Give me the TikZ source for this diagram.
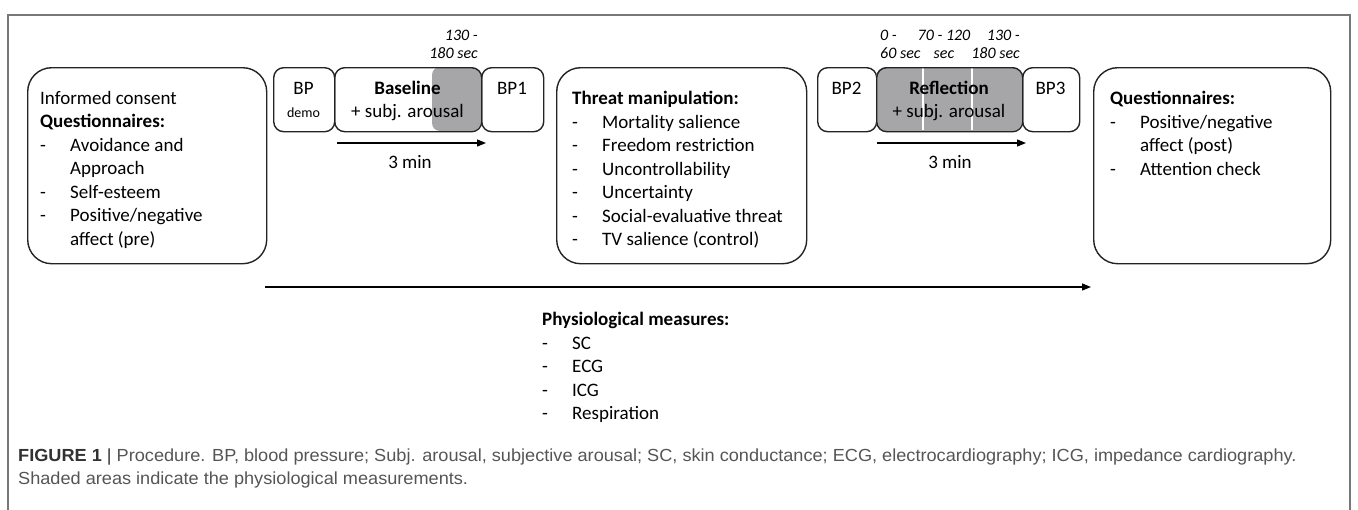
\documentclass[tikz,border=0pt]{standalone}
\usepackage{fontspec}
\usepackage{graphicx}
\setmainfont{Carlito}
\newfontfamily\capfont{Liberation Sans}
\usetikzlibrary{arrows.meta}
\definecolor{shadegray}{RGB}{166,166,168}
\definecolor{framegray}{RGB}{120,120,120}
\definecolor{linedark}{RGB}{35,35,35}
\definecolor{capgray}{RGB}{85,85,85}
\definecolor{capdark}{RGB}{50,50,50}
\newcommand\lidash{\makebox[30pt][l]{-}}
\newcommand\liind{\hspace*{30pt}}
\begin{document}
\begin{tikzpicture}[x=1pt,y=-1pt,
  bigbox/.style={draw=linedark, line width=1.4pt, rounded corners=24pt, inner sep=0pt, anchor=north west},
  smallbox/.style={draw=linedark, line width=1.4pt, rounded corners=10pt, inner sep=0pt, anchor=north west},
  txt/.style={font=\fontsize{19}{23.5}\selectfont, inner sep=0pt, align=left, text=black},
  lbl/.style={font=\fontsize{19}{23}\selectfont, inner sep=0pt, text=black},
  tlbl/.style={font=\fontsize{16}{18}\selectfont\itshape, inner sep=0pt, text=black},
  timeline/.style={line width=1.3pt, draw=black, -{Triangle[length=9pt,width=7pt]}},
  captxt/.style={font=\capfont\fontsize{17.5}{20}\selectfont, inner sep=0pt, text=capgray, anchor=base west}
]
\useasboundingbox (0,0) rectangle (1358,509);
\clip (0,0) rectangle (1358,509);
% outer frame
\draw[framegray, line width=1.3pt] (8,530) -- (8,15) -- (1350,15) -- (1350,530);

% ---- left questionnaire box
\node[bigbox, minimum width=239pt, minimum height=196pt] (consent) at (27,67) {};
\node[txt, anchor=north west] (consenttxt) at (40,91) {Informed consent\\
\textbf{Questionnaires:}\\
\lidash Avoidance and\\
\liind Approach\\
\lidash Self-esteem\\
\lidash Positive/negative\\
\liind affect (pre)};

% ---- baseline group
\node[smallbox, minimum width=61pt, minimum height=64pt] (bpdemo) at (273,67) {};
\begin{scope}
  \clip[rounded corners=10pt] (334,67) rectangle (481,131);
  \fill[shadegray, rounded corners=8pt] (432,67) rectangle (490,131);
\end{scope}
\node[smallbox, minimum width=147pt, minimum height=64pt] (baseline) at (334,67) {};
\node[smallbox, minimum width=62pt, minimum height=64pt] (bpone) at (481,67) {};
\node[lbl] (bpdemotxt) at (303.5,88) {BP};
\node[inner sep=0pt, font=\fontsize{14}{16}\selectfont] (demotxt) at (303.5,113) {demo};
\node[lbl] (baselinetxt) at (407.5,88) {\textbf{Baseline}};
\node[lbl] (arousaltxt) at (407.5,113) {+ subj. arousal};
\node[lbl] (bponetxt) at (512,88) {BP1};
\node[tlbl, anchor=north east, align=right] (tbase) at (478,30) {130 -\\180 sec};
\coordinate (ta1) at (337,143);
\coordinate (ta2) at (486,143);
\draw[timeline] (ta1) -- (ta2);
\node[lbl] (min1) at (410,162) {3 min};

% ---- threat box
\node[bigbox, minimum width=250pt, minimum height=196pt] (threat) at (556,67) {};
\node[txt, anchor=north west] (threattxt) at (572,91) {\textbf{Threat manipulation:}\\
\lidash Mortality salience\\
\lidash Freedom restriction\\
\lidash Uncontrollability\\
\lidash Uncertainty\\
\lidash Social-evaluative threat\\
\lidash TV salience (control)};

% ---- reflection group
\node[smallbox, minimum width=59pt, minimum height=64pt] (bptwo) at (817,67) {};
\fill[shadegray, rounded corners=10pt] (876,67) rectangle (1022,131);
\draw[white, line width=1.2pt] (923,68) -- (923,130);
\draw[white, line width=1.2pt] (972,68) -- (972,130);
\node[smallbox, minimum width=146pt, minimum height=64pt] (reflection) at (876,67) {};
\node[smallbox, minimum width=57pt, minimum height=64pt] (bpthree) at (1022,67) {};
\node[lbl] (bptwotxt) at (846.5,88) {BP2};
\node[lbl] (reflecttxt) at (949,88) {\textbf{Reflection}};
\node[lbl] (arousaltxttwo) at (949,113) {+ subj. arousal};
\node[lbl] (bpthreetxt) at (1050.5,88) {BP3};
\node[tlbl, anchor=north west, align=left] (tref1) at (880,30) {0 -\\60 sec};
\node[tlbl, anchor=north, align=center] (tref2) at (944,30) {70 - 120\\sec};
\node[tlbl, anchor=north east, align=right] (tref3) at (1020,30) {130 -\\180 sec};
\coordinate (tb1) at (877,143);
\coordinate (tb2) at (1026,143);
\draw[timeline] (tb1) -- (tb2);
\node[lbl] (min2) at (950,162) {3 min};

% ---- right questionnaire box
\node[bigbox, minimum width=237pt, minimum height=196pt] (post) at (1093,67) {};
\node[txt, anchor=north west] (posttxt) at (1110,91) {\textbf{Questionnaires:}\\
\lidash Positive/negative\\
\liind affect (post)\\
\lidash Attention check};

% ---- physiological timeline
\coordinate (pa1) at (265,287);
\coordinate (pa2) at (1091,287);
\draw[timeline] (pa1) -- (pa2);
\node[txt, anchor=north west] (phystxt) at (542,312) {\textbf{Physiological measures:}\\
\lidash SC\\
\lidash ECG\\
\lidash ICG\\
\lidash Respiration};

% ---- caption
\node[captxt] (cap1) at (18,461) {\scalebox{1.037}[1]{\textcolor{capdark}{\textbf{FIGURE 1}} \textcolor{capdark}{|} Procedure. BP, blood pressure; Subj. arousal, subjective arousal; SC, skin conductance; ECG, electrocardiography; ICG, impedance cardiography.}};
\node[captxt] (cap2) at (18,484) {\scalebox{1.037}[1]{Shaded areas indicate the physiological measurements.}};
\end{tikzpicture}
\end{document}
